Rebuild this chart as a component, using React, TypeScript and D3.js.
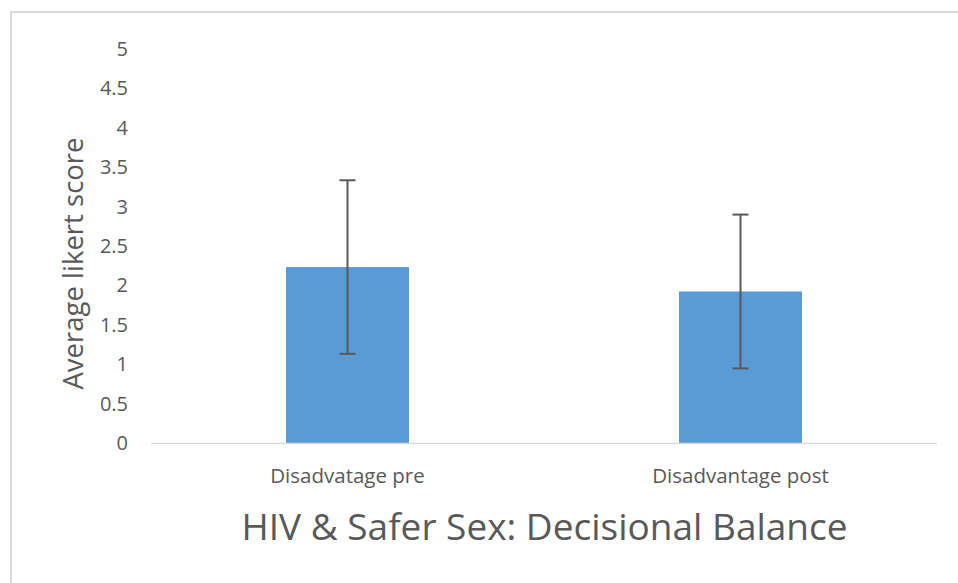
import React from "react";
import * as d3 from "d3";

const categories = ["Disadvatage pre", "Disadvantage post"];
const means = [2.23, 1.92];
const errors = [1.1, 0.975];
const yTicks = [0, 0.5, 1, 1.5, 2, 2.5, 3, 3.5, 4, 4.5, 5];
const yTickLabels = ["0", "0.5", "1", "1.5", "2", "2.5", "3", "3.5", "4", "4.5", "5"];
const chartTitle = "HIV & Safer Sex: Decisional Balance";
const yAxisTitle = "Average likert score";

const W = 958;
const H = 583;
const FONT = "'Open Sans', 'Noto Sans', sans-serif";
const TEXT = "#595959";

export default function App() {
  const x = d3
    .scaleBand<string>()
    .domain(categories)
    .range([151, 937])
    .paddingInner(0.687)
    .paddingOuter(0.3435);
  const y = d3.scaleLinear().domain([0, 5]).range([443, 48.5]);
  const bw = x.bandwidth();
  const cap = 8;

  return (
    <svg
      width={W}
      height={H}
      style={{ position: "fixed", left: 0, top: 0, background: "#fff" }}
      fontFamily={FONT}
    >
      <rect x={0} y={0} width={W} height={H} fill="#fff" />
      <rect x={11} y={12} width={W + 20} height={H + 20} fill="#fff" stroke="#d9d9d9" strokeWidth={2} />

      {yTicks.map((t, i) => (
        <text
          key={t}
          x={128}
          y={y(t)}
          dy="0.36em"
          textAnchor="end"
          fontSize={20}
          fill={TEXT}
        >
          {yTickLabels[i]}
        </text>
      ))}

      {categories.map((c, i) => {
        const x0 = x(c) as number;
        const cx = x0 + bw / 2;
        return (
          <g key={c}>
            <rect
              x={x0}
              y={y(means[i])}
              width={bw}
              height={y(0) - y(means[i])}
              fill="#5B9BD5"
            />
            <line x1={cx} x2={cx} y1={y(means[i] + errors[i])} y2={y(means[i] - errors[i])} stroke="#595959" strokeWidth={2} />
            <line x1={cx - cap} x2={cx + cap} y1={y(means[i] + errors[i])} y2={y(means[i] + errors[i])} stroke="#595959" strokeWidth={2} />
            <line x1={cx - cap} x2={cx + cap} y1={y(means[i] - errors[i])} y2={y(means[i] - errors[i])} stroke="#595959" strokeWidth={2} />
            <text x={cx} y={482.5} textAnchor="middle" fontSize={20.5} fill={TEXT}>
              {c}
            </text>
          </g>
        );
      })}

      <line x1={151} x2={937} y1={y(0) + 0.5} y2={y(0) + 0.5} stroke="#d9d9d9" strokeWidth={1.5} />

      <text
        transform={`translate(82.5, ${263.5}) rotate(-90)`}
        textAnchor="middle"
        fontSize={27.5}
        fill={TEXT}
      >
        {yAxisTitle}
      </text>

      <text x={544.5} y={540} textAnchor="middle" fontSize={37} fill={TEXT}>
        {chartTitle}
      </text>
    </svg>
  );
}
